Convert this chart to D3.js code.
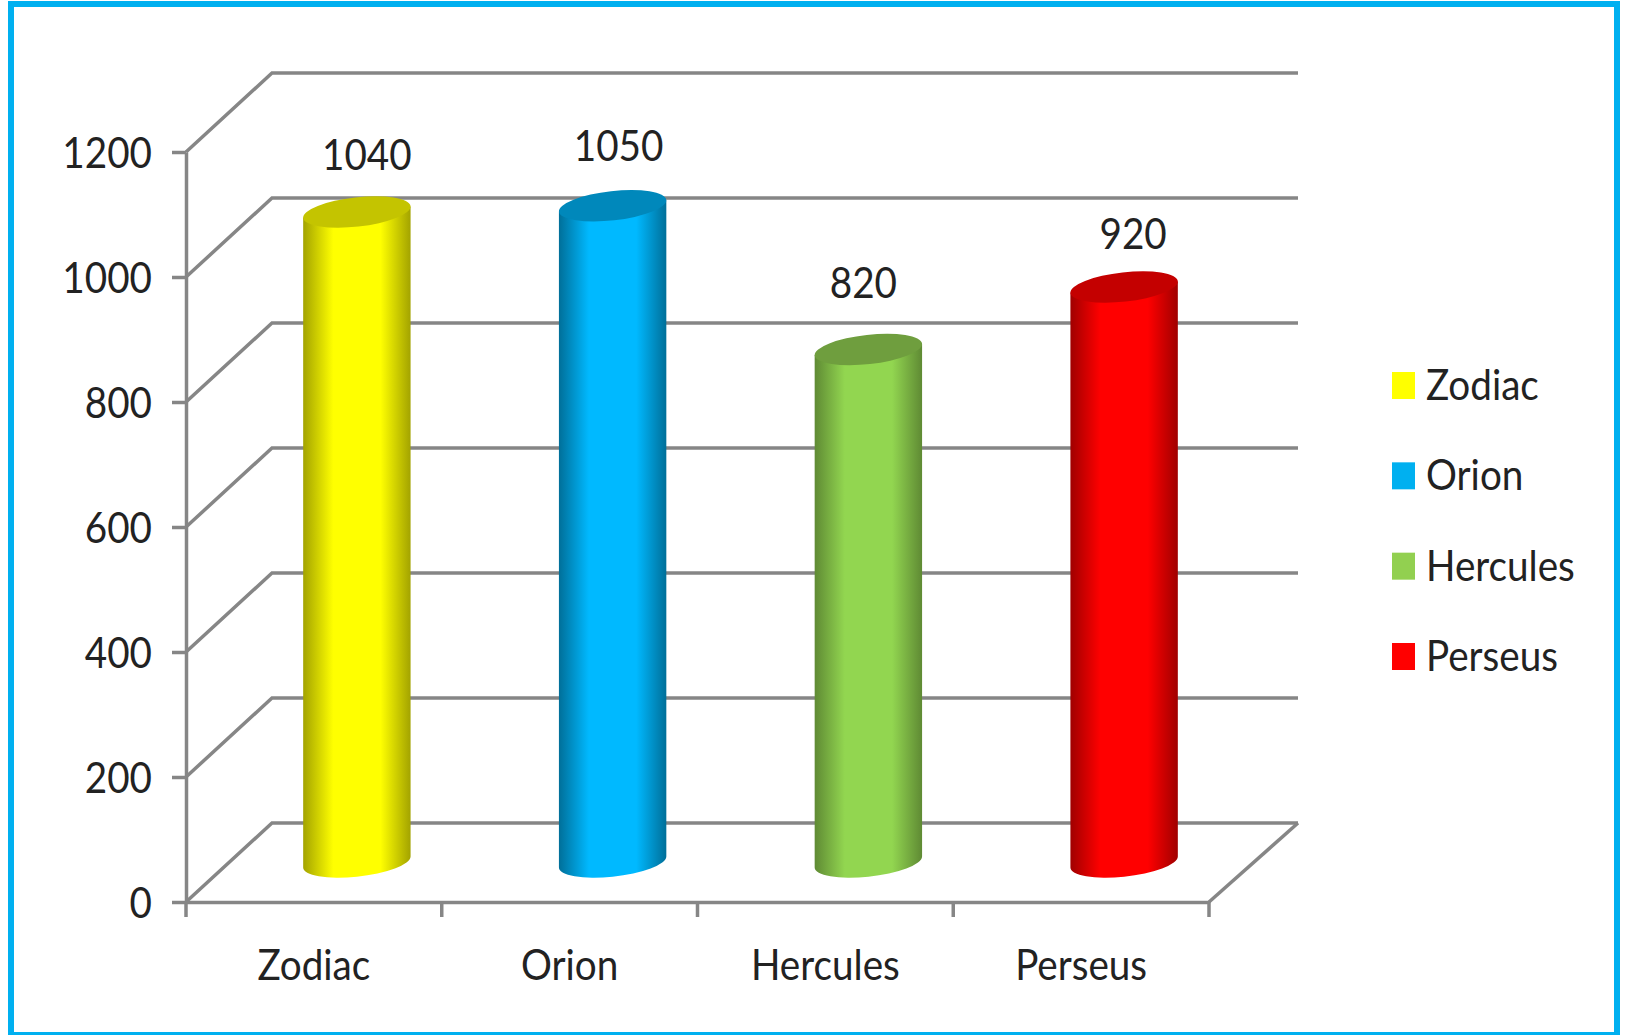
<!DOCTYPE html>
<html>
<head>
<meta charset="utf-8">
<script src="https://d3js.org/d3.v7.min.js"></script>
<style>
  body { margin: 0; background: #fff; }
  text { font-family: Lato, "Open Sans", sans-serif; fill: #222; }
</style>
</head>
<body>
<div id="chart"></div>
<script>
// Chart data
var categories = ["Zodiac", "Orion", "Hercules", "Perseus"]
var values = [1040, 1050, 820, 920]
var yTicks = [0, 200, 400, 600, 800, 1000, 1200]
var barColors = ["#ffff00", "#00b9ff", "#92d650", "#ff0000"]
var edgeColors = ["#a3a300", "#006f99", "#5f8a34", "#a00000"]
var capColors = ["#c4c400", "#0088bb", "#6f9e3e", "#c40000"]
var legendColors = ["#ffff00", "#00b0f0", "#92d050", "#ff0000"]
// Labels were hand placed in the original, so they sit a bit differently per bar
var labelDx = [10, 6, -5, 9]
var labelDy = [-42, -45, -52, -38]

var width = 1627, height = 1035
var plot = {left: 186, right: 1209, top: 152, bottom: 902}
var depthX = 86, depthY = 79
var fontSize = 42
var lineColor = "#868686", lineWidth = 3.5

var svg = d3.select("#chart").append("svg")
  .attr("width", width)
  .attr("height", height)
  .style("display", "block")

// Frame
svg.append("rect")
  .attr("x", 11).attr("y", 4)
  .attr("width", 1606).attr("height", 1031)
  .attr("fill", "none")
  .attr("stroke", "#00b0f0")
  .attr("stroke-width", 6)

var x = d3.scaleBand().domain(categories).range([plot.left, plot.right])
var y = d3.scaleLinear().domain([0, 1200]).range([plot.bottom, plot.top])

// Back wall gridlines and side wall diagonals
var grid = svg.append("g").attr("stroke", lineColor).attr("fill", "none")
grid.selectAll(".wall")
  .data(yTicks)
  .enter()
  .append("path")
    .attr("stroke-width", lineWidth)
    .attr("d", function(d) {
      return d3.line()([[plot.left, y(d)], [plot.left + depthX, y(d) - depthY], [plot.right + depthX + 3, y(d) - depthY]])
    })
grid.append("line")
  .attr("x1", plot.right).attr("y1", plot.bottom)
  .attr("x2", plot.right + depthX + 3).attr("y2", plot.bottom - depthY)
  .attr("stroke-width", lineWidth)

// Axes
var yAxis = svg.append("g")
  .attr("transform", "translate(" + plot.left + ",0)")
  .call(d3.axisLeft(y).tickValues(yTicks).tickFormat(d3.format("d")).tickSize(14).tickPadding(20).tickSizeOuter(0))
yAxis.selectAll("text").attr("dy", "0.38em")

var xTickPos = categories.map(function(c) { return x(c) }).concat([plot.right])
var xAxis = svg.append("g")
  .attr("transform", "translate(0," + plot.bottom + ")")
  .call(d3.axisBottom(x).tickSize(0).tickPadding(48))
xAxis.selectAll(".edge")
  .data(xTickPos)
  .enter()
  .append("line")
    .attr("x1", function(d) { return d }).attr("x2", function(d) { return d })
    .attr("y1", 0).attr("y2", 15)
    .attr("stroke", lineColor)
    .attr("stroke-width", lineWidth)

svg.selectAll(".domain, .tick line")
  .attr("stroke", lineColor)
  .attr("stroke-width", lineWidth)
svg.selectAll(".tick text")
  .attr("font-size", fontSize)
  .style("font-family", "Lato")
  .attr("fill", "#222")

// Cylinders
var rx = 54, ry = 14.6, tilt = -6.3
var extX = 53.7, extY = 5.5

var defs = svg.append("defs")
categories.forEach(function(c, i) {
  var grad = defs.append("linearGradient").attr("id", "bar" + i)
  grad.append("stop").attr("offset", "0%").attr("stop-color", edgeColors[i])
  grad.append("stop").attr("offset", "28%").attr("stop-color", barColors[i])
  grad.append("stop").attr("offset", "72%").attr("stop-color", barColors[i])
  grad.append("stop").attr("offset", "100%").attr("stop-color", edgeColors[i])
})

var bars = svg.selectAll(".bar")
  .data(values)
  .enter()
  .append("g")
    .attr("class", "bar")

function cx(i) { return x(categories[i]) + x.bandwidth() / 2 + depthX / 2 }
function wallY(v) { return y(v) - 40 }

bars.append("path")
  .attr("fill", function(d, i) { return "url(#bar" + i + ")" })
  .attr("d", function(d, i) {
    var a = cx(i), t = wallY(d), b = wallY(0)
    return "M" + (a - extX) + "," + (t + extY) +
      "L" + (a - extX) + "," + (b + extY) +
      "A" + rx + "," + ry + " " + tilt + " 0 0 " + (a + extX) + "," + (b - extY) +
      "L" + (a + extX) + "," + (t - extY) + "Z"
  })

bars.append("ellipse")
  .attr("rx", rx)
  .attr("ry", ry)
  .attr("fill", function(d, i) { return capColors[i] })
  .attr("transform", function(d, i) {
    return "translate(" + cx(i) + "," + wallY(d) + ") rotate(" + tilt + ")"
  })

// Value labels
bars.append("text")
  .attr("x", function(d, i) { return cx(i) + labelDx[i] })
  .attr("y", function(d, i) { return wallY(d) + labelDy[i] })
  .attr("text-anchor", "middle")
  .attr("font-size", fontSize)
  .text(function(d) { return d })

// Legend
var legendY = d3.scalePoint().domain(categories).range([385, 656])
var legend = svg.selectAll(".legend")
  .data(categories)
  .enter()
  .append("g")
    .attr("class", "legend")
    .attr("transform", function(d) { return "translate(1392," + legendY(d) + ")" })
legend.append("rect")
  .attr("x", 0).attr("y", -13)
  .attr("width", 23).attr("height", 27)
  .attr("fill", function(d, i) { return legendColors[i] })
legend.append("text")
  .attr("x", 34)
  .attr("dy", "0.36em")
  .attr("font-size", fontSize)
  .text(function(d) { return d })

// Squeeze the text a bit, the original font is narrower than Lato
svg.selectAll("text").each(function() {
  d3.select(this)
    .attr("textLength", this.getComputedTextLength() * 0.92)
    .attr("lengthAdjust", "spacingAndGlyphs")
})
</script>
</body>
</html>
